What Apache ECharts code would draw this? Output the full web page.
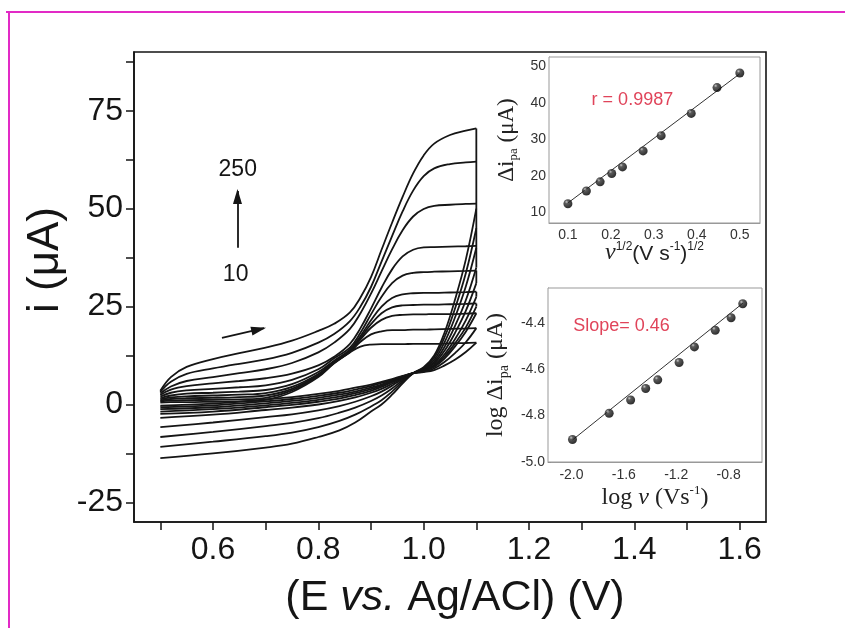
<!DOCTYPE html>
<html>
<head>
<meta charset="utf-8">
<script src="https://cdn.jsdelivr.net/npm/echarts@6.0.0/dist/echarts.min.js"></script>
<style>
html,body{margin:0;padding:0;background:#fff;}
#chart{width:845px;height:628px;}
</style>
</head>
<body>
<div id="chart"></div>
<script>
// ---------------- data: cyclic voltammograms ----------------
const scanRates = [250, 200, 150, 100, 75, 50, 40, 30, 20, 10];
// forward (anodic) sweep potentials, V
const fwdE = [0.5,0.52,0.55,0.6,0.65,0.7,0.75,0.8,0.83,0.86,0.88,0.9,0.92,0.94,0.96,0.98,1.0,1.02,1.05,1.08,1.1];
const fwd250 = [3.5,7.0,9.6,11.6,13.1,14.5,16.3,18.8,20.6,23.5,27.3,32.5,39.5,46.4,53.0,59.0,63.6,66.6,68.8,69.9,70.5];
const fwd200 = [3.2,5.8,7.8,9.2,10.4,11.5,13.2,15.8,18.0,21.3,25.0,30.0,36.5,43.0,49.3,54.6,58.3,60.3,61.4,61.8,62.0];
const fwd150 = [2.8,4.6,6.0,7.0,8.0,9.0,10.6,13.3,15.8,19.3,23.3,28.3,34.0,39.6,44.5,48.0,49.9,50.7,51.0,51.2,51.3];
const fwd100 = [2.4,3.8,4.7,5.4,6.0,6.7,7.9,10.0,12.2,15.5,19.5,24.5,29.8,34.5,37.8,39.5,40.1,40.2,40.3,40.4,40.5];
const fwd75  = [2.0,3.0,3.6,4.0,4.4,4.9,6.3,9.0,11.8,14.5,18.3,23.0,27.5,31.0,32.9,33.6,33.8,33.9,34.0,34.1,34.2];
const fwd50  = [1.6,2.3,2.8,3.0,3.3,3.7,5.2,8.3,11.2,14.0,17.5,21.5,25.0,27.2,28.1,28.4,28.5,28.5,28.6,28.7,28.8];
const fwd40  = [1.3,1.8,2.1,2.3,2.5,2.9,4.5,7.8,10.9,13.7,17.0,20.5,23.3,24.8,25.3,25.4,25.5,25.5,25.6,25.7,25.8];
const fwd30  = [1.0,1.4,1.6,1.7,1.9,2.3,4.0,7.5,10.7,13.5,16.6,19.6,21.6,22.6,22.9,23.0,23.0,23.1,23.1,23.2,23.3];
const fwd20  = [0.8,1.0,1.1,1.2,1.3,1.7,3.6,7.2,10.6,13.4,16.0,17.9,18.7,19.0,19.0,19.1,19.1,19.2,19.3,19.4,19.5];
const fwd10  = [0.5,0.6,0.6,0.7,0.8,1.2,3.2,7.0,10.5,13.3,14.8,15.3,15.4,15.4,15.4,15.5,15.5,15.5,15.6,15.7,15.8];
// reverse (cathodic) sweep potentials, V
const revE = [1.1,1.08,1.06,1.04,1.02,1.0,0.98,0.96,0.94,0.92,0.9,0.87,0.84,0.8,0.75,0.7,0.6,0.5];
const rev250 = [50,37,27,18.5,12.5,9.5,8.0,5.4,2.5,0.0,-1.8,-4.6,-6.6,-8.3,-10.0,-11.0,-12.5,-13.7];
const rev200 = [45,33.5,24.7,17.3,12.0,9.3,8.0,5.8,3.3,1.1,-0.5,-2.6,-4.2,-5.8,-7.2,-8.1,-9.5,-10.8];
const rev150 = [40,30.1,22.4,16.0,11.4,9.2,8.0,6.2,4.1,2.3,0.9,-0.8,-2.1,-3.5,-4.7,-5.5,-7.0,-8.3];
const rev100 = [35,26.6,20.2,14.8,10.9,9.0,8.0,6.5,4.8,3.3,2.1,0.7,-0.4,-1.5,-2.5,-3.2,-4.6,-5.8];
const rev75  = [31,23.9,18.4,13.8,10.5,8.8,8.0,6.7,5.3,4.0,3.0,1.8,0.9,0.0,-0.8,-1.4,-2.6,-3.4];
const rev50  = [27.5,21.5,16.8,12.9,10.1,8.7,8.0,6.9,5.7,4.5,3.5,2.4,1.5,0.7,-0.1,-0.7,-1.8,-2.4];
const rev40  = [25,19.7,15.7,12.3,9.8,8.6,8.0,7.0,5.9,4.8,3.9,2.9,2.0,1.2,0.4,-0.2,-1.2,-1.8];
const rev30  = [23.3,18.6,14.9,11.8,9.6,8.6,8.0,7.1,6.1,5.1,4.3,3.3,2.5,1.7,0.9,0.3,-0.7,-1.2];
const rev20  = [19.5,15.9,13.2,10.9,9.2,8.4,8.0,7.2,6.3,5.5,4.7,3.8,3.0,2.2,1.4,0.8,-0.2,-0.7];
const rev10  = [15.8,13.4,11.5,10.0,8.8,8.3,8.0,7.3,6.5,5.8,5.1,4.3,3.5,2.7,1.9,1.3,0.2,-0.3];

// main axes ticks / labels
const mainXLabels = [0.6, 0.8, 1.0, 1.2, 1.4, 1.6];
const mainXTicks = [0.5,0.6,0.7,0.8,0.9,1.0,1.1,1.2,1.3,1.4,1.5,1.6];
const mainYLabels = [-25, 0, 25, 50, 75];
const mainYTicks = [-25,-12.5,0,12.5,25,37.5,50,62.5,75,87.5];

// annotations (data coordinates)
const annoHigh = [0.647, 59.9];   // "250"
const annoLow = [0.643, 33.1];    // "10"
const arrowUp = [[0.6465, 40.0], [0.6465, 54.5]];
const arrowRight = [[0.617, 17.0], [0.697, 19.5]];

// ---------------- inset 1: Δi_pa vs v^1/2 ----------------
const sqrtV = [0.1, 0.143, 0.175, 0.202, 0.227, 0.275, 0.317, 0.387, 0.447, 0.5];
const dIpa = [12.3, 15.8, 18.3, 20.6, 22.4, 26.8, 31.0, 37.1, 44.2, 48.2];
const fit1X = [0.1, 0.5];
const fit1Y = [12.5, 48.0];
const ins1XLabels = [0.1, 0.2, 0.3, 0.4, 0.5];
const ins1YLabels = [10, 20, 30, 40, 50];
const ins1Note = [0.154, 40.8];

// ---------------- inset 2: log Δi_pa vs log v ----------------
const logV = [-1.992, -1.712, -1.548, -1.433, -1.341, -1.178, -1.061, -0.902, -0.781, -0.692];
const logDI = [-4.903, -4.79, -4.733, -4.683, -4.646, -4.571, -4.504, -4.432, -4.378, -4.318];
const fit2X = [-1.992, -0.69];
const fit2Y = [-4.905, -4.315];
const ins2XLabels = [-2.0, -1.6, -1.2, -0.8];
const ins2YLabels = [-5.0, -4.8, -4.6, -4.4];
const ins2Note = [-1.99, -4.416];

// ---------------- chart ----------------
const SANS = "'Liberation Sans', Arial, Helvetica, sans-serif";
const SERIF = "'Liberation Serif', 'Times New Roman', serif";
const INK = '#151515';

const fwdData = [fwd250, fwd200, fwd150, fwd100, fwd75, fwd50, fwd40, fwd30, fwd20, fwd10];
const revData = [rev250, rev200, rev150, rev100, rev75, rev50, rev40, rev30, rev20, rev10];

const curveStyle = { color: INK, width: 1.8 };
const series = [];
const turnSegments = [];
scanRates.forEach((r, k) => {
  const f = fwdData[k], rv = revData[k];
  const fw = {
    name: 'forward ' + r, type: 'line', xAxisIndex: 0, yAxisIndex: 0,
    data: fwdE.map((e, j) => [e, f[j]]),
    showSymbol: false, symbol: 'none', smooth: 0.4,
    lineStyle: curveStyle, silent: true, z: 3
  };
  if (k === 0) {
    fw.markLine = {
      silent: true, symbol: 'none',
      lineStyle: { color: INK, width: 1.8, type: 'solid' },
      label: { show: false }, emphasis: { disabled: true },
      data: [
        [{ coord: arrowUp[0] }, { coord: arrowUp[1] }],
        [{ coord: arrowRight[0] }, { coord: arrowRight[1] }]
      ]
    };
    fw.markPoint = {
      silent: true, symbol: 'circle', symbolSize: 1,
      itemStyle: { color: 'rgba(0,0,0,0)' },
      label: { show: true, position: 'inside', formatter: p => p.name,
               color: INK, fontFamily: SANS, fontSize: 23 },
      data: [ { name: '250', coord: annoHigh }, { name: '10', coord: annoLow } ]
    };
  }
  series.push(fw);
  series.push({
    name: 'reverse ' + r, type: 'line', xAxisIndex: 0, yAxisIndex: 0,
    data: revE.map((e, j) => [e, rv[j]]),
    showSymbol: false, symbol: 'none', smooth: 0.4,
    lineStyle: curveStyle, silent: true, z: 3
  });
  // switching-potential segment joining forward end and reverse start
  turnSegments.push([fwdE[fwdE.length - 1], f[f.length - 1]], [revE[0], rv[0]], '-');
});
series.push({
  name: 'turn', type: 'line', xAxisIndex: 0, yAxisIndex: 0, data: turnSegments,
  showSymbol: false, symbol: 'none', connectNulls: false,
  lineStyle: curveStyle, silent: true, z: 3
});

const ballColor = new echarts.graphic.RadialGradient(0.35, 0.3, 0.65, [
  { offset: 0, color: '#bdbdbd' }, { offset: 0.3, color: '#333' }, { offset: 1, color: '#000' }
]);

// inset 1 series
series.push({
  type: 'line', xAxisIndex: 1, yAxisIndex: 1, data: fit1X.map((x, i) => [x, fit1Y[i]]),
  showSymbol: false, symbol: 'none', lineStyle: { color: '#333', width: 1 }, silent: true,
  markPoint: {
    silent: true, symbol: 'circle', symbolSize: 1, itemStyle: { color: 'rgba(0,0,0,0)' },
    label: { show: true, position: 'right', distance: 0, formatter: 'r = 0.9987',
             color: '#e0445a', fontFamily: SANS, fontSize: 18 },
    data: [{ coord: ins1Note }]
  }
});
series.push({
  type: 'scatter', xAxisIndex: 1, yAxisIndex: 1, data: sqrtV.map((x, i) => [x, dIpa[i]]),
  symbol: 'circle', symbolSize: 9, itemStyle: { color: ballColor }, silent: true, z: 4
});
// inset 2 series
series.push({
  type: 'line', xAxisIndex: 2, yAxisIndex: 2, data: fit2X.map((x, i) => [x, fit2Y[i]]),
  showSymbol: false, symbol: 'none', lineStyle: { color: '#333', width: 1 }, silent: true,
  markPoint: {
    silent: true, symbol: 'circle', symbolSize: 1, itemStyle: { color: 'rgba(0,0,0,0)' },
    label: { show: true, position: 'right', distance: 0, formatter: 'Slope= 0.46',
             color: '#e0445a', fontFamily: SANS, fontSize: 18 },
    data: [{ coord: ins2Note }]
  }
});
series.push({
  type: 'scatter', xAxisIndex: 2, yAxisIndex: 2, data: logV.map((x, i) => [x, logDI[i]]),
  symbol: 'circle', symbolSize: 9, itemStyle: { color: ballColor }, silent: true, z: 4
});

const insetAxisCommon = {
  type: 'value', splitLine: { show: false }, nameMoveOverlap: false,
  axisLine: { show: true, onZero: false, lineStyle: { color: '#999', width: 1 } },
  axisTick: { show: true, inside: true, length: 3, lineStyle: { color: '#888' } },
};

const option = {
  animation: false,
  backgroundColor: '#ffffff',
  grid: [
    { left: 134, top: 52, width: 632, height: 470, show: true, borderColor: INK, borderWidth: 1.6,
      backgroundColor: 'transparent', containLabel: false, outerBoundsMode: 'none' },
    { left: 549, top: 57, width: 211, height: 166, show: true, borderColor: '#999', borderWidth: 1,
      backgroundColor: '#fff', containLabel: false, outerBoundsMode: 'none', z: 1 },
    { left: 548, top: 288, width: 214, height: 174, show: true, borderColor: '#999', borderWidth: 1,
      backgroundColor: '#fff', containLabel: false, outerBoundsMode: 'none', z: 1 }
  ],
  xAxis: [
    { gridIndex: 0, type: 'value', min: 0.45, max: 1.65, splitLine: { show: false }, nameMoveOverlap: false,
      axisLine: { show: true, onZero: false, lineStyle: { color: INK, width: 1.6 } },
      axisTick: { show: true, inside: false, length: 8, customValues: mainXTicks, lineStyle: { color: INK, width: 1.5 } },
      axisLabel: { customValues: mainXLabels, formatter: v => v.toFixed(1), fontFamily: SANS, fontSize: 32,
                   color: INK, margin: 12 } },
    Object.assign({}, insetAxisCommon, { gridIndex: 1, min: 0.056, max: 0.547,
      axisTick: Object.assign({}, insetAxisCommon.axisTick, { customValues: ins1XLabels }),
      axisLabel: { customValues: ins1XLabels, formatter: v => v.toFixed(1), fontFamily: SANS, fontSize: 14,
                   color: '#333', margin: 5 },
      name: '{v|v}{s|1/2}{a|(V s}{s|-1}{a|)}{s|1/2}', nameLocation: 'middle', nameGap: 18,
      nameTextStyle: { rich: {
        v: { fontFamily: SERIF, fontStyle: 'italic', fontSize: 24, color: '#222', lineHeight: 24, verticalAlign: 'bottom' },
        a: { fontFamily: SANS, fontSize: 21, color: '#222', lineHeight: 24, verticalAlign: 'bottom' },
        s: { fontFamily: SANS, fontSize: 12, color: '#222', lineHeight: 12, verticalAlign: 'top' } } } }),
    Object.assign({}, insetAxisCommon, { gridIndex: 2, min: -2.179, max: -0.545,
      axisTick: Object.assign({}, insetAxisCommon.axisTick, { customValues: ins2XLabels }),
      axisLabel: { customValues: ins2XLabels, formatter: v => v.toFixed(1), fontFamily: SANS, fontSize: 14,
                   color: '#333', margin: 6 },
      name: '{a|log }{i|v}{a| (Vs}{s|-1}{a|)}', nameLocation: 'middle', nameGap: 22,
      nameTextStyle: { rich: {
        a: { fontFamily: SERIF, fontSize: 24, color: '#222', lineHeight: 26, verticalAlign: 'bottom' },
        i: { fontFamily: SERIF, fontStyle: 'italic', fontSize: 24, color: '#222', lineHeight: 26, verticalAlign: 'bottom' },
        s: { fontFamily: SERIF, fontSize: 13, color: '#222', lineHeight: 13, verticalAlign: 'top' } } } })
  ],
  yAxis: [
    { gridIndex: 0, type: 'value', min: -30, max: 90, splitLine: { show: false }, nameMoveOverlap: false,
      axisLine: { show: true, onZero: false, lineStyle: { color: INK, width: 1.6 } },
      axisTick: { show: true, inside: false, length: 8, customValues: mainYTicks, lineStyle: { color: INK, width: 1.5 } },
      axisLabel: { customValues: mainYLabels, fontFamily: SANS, fontSize: 32, color: INK, margin: 11 } },
    Object.assign({}, insetAxisCommon, { gridIndex: 1, min: 7, max: 52.6,
      axisTick: Object.assign({}, insetAxisCommon.axisTick, { customValues: ins1YLabels }),
      axisLabel: { customValues: ins1YLabels, fontFamily: SANS, fontSize: 14, color: '#333', margin: 3 },
      name: '{a|Δi}{b|pa}{a| (μA)}', nameLocation: 'middle', nameGap: 30,
      nameTextStyle: { rich: {
        a: { fontFamily: SERIF, fontSize: 23, color: '#222', lineHeight: 24, verticalAlign: 'top' },
        b: { fontFamily: SERIF, fontSize: 13, color: '#222', lineHeight: 13, padding: [14, 0, 0, 0] } } } }),
    Object.assign({}, insetAxisCommon, { gridIndex: 2, min: -5.0, max: -4.25,
      axisTick: Object.assign({}, insetAxisCommon.axisTick, { customValues: ins2YLabels }),
      axisLabel: { customValues: ins2YLabels, formatter: v => v.toFixed(1), fontFamily: SANS, fontSize: 14,
                   color: '#333', margin: 3 },
      name: '{a|log Δi}{b|pa}{a| (μA)}', nameLocation: 'middle', nameGap: 38,
      nameTextStyle: { rich: {
        a: { fontFamily: SERIF, fontSize: 24, color: '#222', lineHeight: 26, verticalAlign: 'top' },
        b: { fontFamily: SERIF, fontSize: 14, color: '#222', lineHeight: 14, padding: [15, 0, 0, 0] } } } })
  ],
  graphic: [
    { id: 'magTop', type: 'line', silent: true, shape: { x1: 6, y1: 12, x2: 845, y2: 12 },
      style: { stroke: '#e22ac6', lineWidth: 2 } },
    { id: 'magLeft', type: 'line', silent: true, shape: { x1: 9, y1: 12, x2: 9, y2: 628 },
      style: { stroke: '#e22ac6', lineWidth: 2 } },
    { id: 'yTitle', type: 'text', silent: true, x: 46, y: 260, rotation: Math.PI / 2,
      style: { text: 'i (μA)', font: "44px 'Liberation Sans', Arial, sans-serif", fill: INK,
               align: 'center', verticalAlign: 'middle' } },
    { id: 'xTitle', type: 'text', silent: true, x: 455, y: 598,
      style: { text: '{n|(E }{i|vs.}{n| Ag/ACl) (V)}', align: 'center', verticalAlign: 'middle',
               rich: { n: { fontFamily: SANS, fontSize: 43, fill: INK },
                       i: { fontFamily: SANS, fontSize: 43, fontStyle: 'italic', fill: INK } } } }
  ],
  series: series
};

const chart = echarts.init(document.getElementById('chart'), null, { renderer: 'canvas' });
chart.setOption(option);

// arrow heads placed at the data-coordinate ends of the annotation arrows
function head(id, arrow) {
  const a = chart.convertToPixel({ gridIndex: 0 }, arrow[0]);
  const b = chart.convertToPixel({ gridIndex: 0 }, arrow[1]);
  const dx = b[0] - a[0], dy = b[1] - a[1];
  const L = Math.sqrt(dx * dx + dy * dy), ux = dx / L, uy = dy / L;
  const len = 13, half = 4.5;
  const bx = b[0] - ux * len, by = b[1] - uy * len;
  return { id, type: 'polygon', silent: true, z: 10,
    shape: { points: [[b[0] + ux * 2, b[1] + uy * 2], [bx - uy * half, by + ux * half], [bx + uy * half, by - ux * half]] },
    style: { fill: INK } };
}
chart.setOption({ graphic: [head('headUp', arrowUp), head('headRight', arrowRight)] });
</script>
</body>
</html>
